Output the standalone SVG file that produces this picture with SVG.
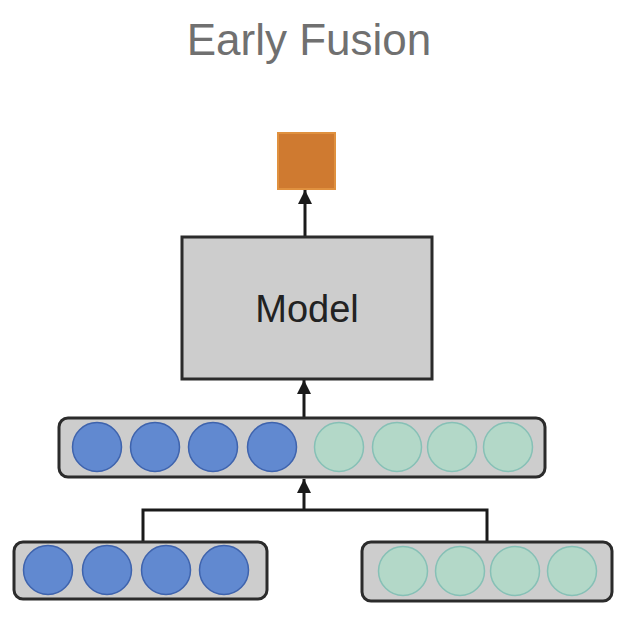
<svg xmlns="http://www.w3.org/2000/svg" width="624" height="631" viewBox="0 0 624 631">
<defs>
<style>
.bar{fill:#cdcdcd;stroke:#2b2b2b;stroke-width:3}
.blue{fill:#6189d0;stroke:#3e63ad;stroke-width:1.5}
.teal{fill:#b3d8c8;stroke:#86c0b6;stroke-width:1.5}
.conn{fill:none;stroke:#1a1a1a;stroke-width:3}
.title{font-family:"Liberation Sans",Arial,sans-serif;font-size:44px;fill:#707070}
.label{font-family:"Liberation Sans",Arial,sans-serif;font-size:38px;fill:#222}
</style>
<marker id="arr" markerUnits="userSpaceOnUse" markerWidth="14" markerHeight="16" viewBox="0 0 14 16" refX="14" refY="8" orient="auto">
<path d="M0,1 L14,8 L0,15 Z" fill="#1a1a1a"/>
</marker>
</defs>
<text class="title" x="309" y="55" text-anchor="middle">Early Fusion</text>
<g id="connectors">
<line class="conn" x1="305" y1="237" x2="305" y2="190" marker-end="url(#arr)"/>
<line class="conn" x1="304" y1="418" x2="304" y2="380" marker-end="url(#arr)"/>
<polyline class="conn" points="143,542 143,510 487,510 487,542"/>
<line class="conn" x1="304" y1="510" x2="304" y2="479" marker-end="url(#arr)"/>
</g>
<g id="output">
<rect x="278" y="133" width="57" height="56" fill="#cf7a30" stroke="#e0913f" stroke-width="2"/>
</g>
<g id="model">
<rect x="182" y="237" width="250" height="142" fill="#cdcdcd" stroke="#2b2b2b" stroke-width="3"/>
<text class="label" x="307" y="322" text-anchor="middle">Model</text>
</g>
<g id="fused">
<rect class="bar" x="59" y="418" width="486" height="59" rx="9"/>
<circle class="blue" cx="97" cy="447" r="24.5"/>
<circle class="blue" cx="155" cy="447" r="24.5"/>
<circle class="blue" cx="213" cy="447" r="24.5"/>
<circle class="blue" cx="272" cy="447" r="24.5"/>
<circle class="teal" cx="339" cy="447" r="24.5"/>
<circle class="teal" cx="397" cy="447" r="24.5"/>
<circle class="teal" cx="452" cy="447" r="24.5"/>
<circle class="teal" cx="508" cy="447" r="24.5"/>
</g>
<g id="input-a">
<rect class="bar" x="14" y="542" width="253" height="57" rx="9"/>
<circle class="blue" cx="48" cy="570" r="24.5"/>
<circle class="blue" cx="107" cy="570" r="24.5"/>
<circle class="blue" cx="166" cy="570" r="24.5"/>
<circle class="blue" cx="224" cy="570" r="24.5"/>
</g>
<g id="input-b">
<rect class="bar" x="362" y="542" width="250" height="59" rx="9"/>
<circle class="teal" cx="403" cy="571" r="24.5"/>
<circle class="teal" cx="460" cy="571" r="24.5"/>
<circle class="teal" cx="515" cy="571" r="24.5"/>
<circle class="teal" cx="572" cy="571" r="24.5"/>
</g>
</svg>
